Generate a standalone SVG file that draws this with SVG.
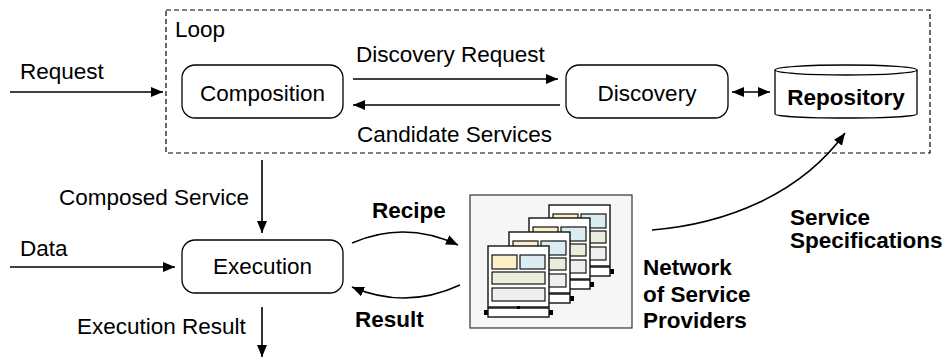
<svg xmlns="http://www.w3.org/2000/svg" width="944" height="358" viewBox="0 0 944 358">
  <style>
    text { font-family: "Liberation Sans", Arial, sans-serif; font-size: 22.5px; fill: #000; }
    .b { font-weight: bold; }
    .mid { text-anchor: middle; }
    .node { fill: #fff; stroke: #000; stroke-width: 1.3; }
    .edge { fill: none; stroke: #000; stroke-width: 1.6; }
    .doc { fill: #fff; stroke: #111; stroke-width: 1.4; }
    .cell { stroke: #111; stroke-width: 1.2; }
  </style>
  <defs>
    <marker id="arrow" viewBox="0 0 12 10" refX="12" refY="5" markerWidth="12" markerHeight="10" markerUnits="userSpaceOnUse" orient="auto-start-reverse">
      <path d="M0,0 L12,5 L0,10 z" fill="#000"/>
    </marker>
    <!-- one provider page: header cells, body rows and a stand -->
    <g id="page">
      <rect class="doc" x="0" y="0" width="61" height="61"/>
      <rect class="cell" x="4" y="9" width="25" height="14" fill="#fdefc6"/>
      <rect class="cell" x="32" y="9" width="25" height="14" fill="#dcecf3"/>
      <rect class="cell" x="4" y="26" width="53" height="12" fill="#e9efdc"/>
      <rect class="cell" x="4" y="42" width="53" height="13" fill="#efefef"/>
      <rect x="-4" y="64" width="5" height="5" fill="#000"/>
      <rect x="60" y="64" width="5" height="5" fill="#000"/>
      <rect class="doc" x="0" y="62" width="61" height="9"/>
      <rect x="29" y="60" width="3" height="3" fill="#000"/>
    </g>
  </defs>

  <!-- loop boundary -->
  <g id="loop">
    <rect x="166" y="10" width="764" height="143" fill="none" stroke="#000" stroke-width="1.2" stroke-dasharray="5,3"/>
    <text x="175" y="37">Loop</text>
  </g>

  <g id="composition">
    <rect class="node" x="182" y="65" width="161" height="53" rx="13"/>
    <text class="mid" x="262.5" y="101">Composition</text>
  </g>

  <g id="discovery">
    <rect class="node" x="566" y="65" width="162" height="53" rx="13"/>
    <text class="mid" x="647" y="101">Discovery</text>
  </g>

  <g id="repository">
    <path class="node" d="M775,70 L775,114 A71,4 0 0 0 917,114 L917,70"/>
    <ellipse class="node" cx="846" cy="70" rx="71" ry="5"/>
    <text class="b mid" x="846" y="105">Repository</text>
  </g>

  <g id="execution">
    <rect class="node" x="182" y="240" width="161" height="53" rx="13"/>
    <text class="mid" x="262.5" y="274">Execution</text>
  </g>

  <g id="providers">
    <rect x="470" y="195" width="162" height="133" fill="#f6f6f6" stroke="#333" stroke-width="1.2"/>
    <use href="#page" x="549" y="205"/>
    <use href="#page" x="529" y="218"/>
    <use href="#page" x="509" y="232"/>
    <use href="#page" x="488" y="246"/>
    <text class="b" x="643" y="275">Network</text>
    <text class="b" x="643" y="302">of Service</text>
    <text class="b" x="643" y="328">Providers</text>
  </g>

  <g id="connectors">
    <line class="edge" x1="10" y1="92" x2="163" y2="92" marker-end="url(#arrow)"/>
    <text x="20" y="79">Request</text>

    <line class="edge" x1="353" y1="79" x2="558" y2="79" marker-end="url(#arrow)"/>
    <text x="356" y="62">Discovery Request</text>

    <line class="edge" x1="560" y1="105" x2="353" y2="105" marker-end="url(#arrow)"/>
    <text x="357" y="142">Candidate Services</text>

    <line class="edge" x1="732" y1="92" x2="770" y2="92" marker-start="url(#arrow)" marker-end="url(#arrow)"/>

    <line class="edge" x1="262" y1="160" x2="262" y2="233" marker-end="url(#arrow)"/>
    <text x="59" y="205">Composed Service</text>

    <line class="edge" x1="10" y1="267" x2="175" y2="267" marker-end="url(#arrow)"/>
    <text x="20" y="256">Data</text>

    <line class="edge" x1="262" y1="307" x2="262" y2="357" marker-end="url(#arrow)"/>
    <text x="77" y="334">Execution Result</text>

    <path class="edge" d="M352,243 Q405,220 458,245" marker-end="url(#arrow)"/>
    <text class="b" x="372" y="218">Recipe</text>

    <path class="edge" d="M460,285 Q406,310 352,287" marker-end="url(#arrow)"/>
    <text class="b" x="355" y="327">Result</text>

    <path class="edge" d="M652,230 C725,224 800,195 845,133" marker-end="url(#arrow)"/>
    <text class="b" x="790" y="225">Service</text>
    <text class="b" x="790" y="248">Specifications</text>
  </g>
</svg>
